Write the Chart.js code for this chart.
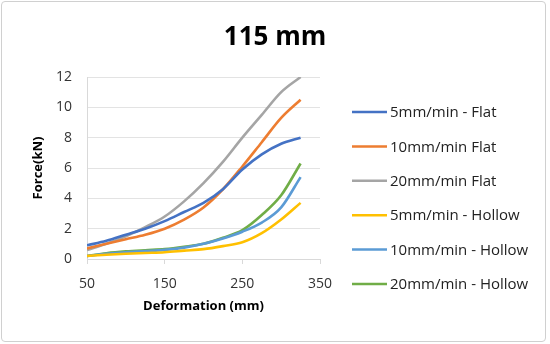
<!DOCTYPE html>
<html>
<head>
<meta charset="utf-8">
<script src="https://cdn.jsdelivr.net/npm/chart.js@4"></script>
<style>
  html, body { margin: 0; padding: 0; background: #fff; }
  #box { position: absolute; left: 1px; top: 1px; width: 543px; height: 339px; border: 1px solid #d0d0d0; border-radius: 4px; }
  canvas { display: block; }
</style>
</head>
<body>
<div id="box"><canvas id="chart" width="543" height="339"></canvas></div>
<script>
// deformation (mm)
const deformation = [50, 75, 100, 125, 150, 175, 200, 225, 250, 275, 300, 325];
// force (kN)
const flat5 = [0.9, 1.2, 1.6, 2.0, 2.5, 3.1, 3.7, 4.6, 5.9, 6.9, 7.6, 8.0];
const flat10 = [0.7, 1.0, 1.3, 1.6, 2.0, 2.6, 3.4, 4.6, 6.1, 7.7, 9.3, 10.5];
const flat20 = [0.6, 1.0, 1.5, 2.1, 2.8, 3.8, 5.0, 6.4, 8.0, 9.5, 11.0, 12.0];
const hollow5 = [0.2, 0.28, 0.35, 0.4, 0.45, 0.55, 0.65, 0.85, 1.1, 1.7, 2.6, 3.7];
const hollow10 = [0.2, 0.35, 0.45, 0.52, 0.6, 0.75, 1.0, 1.35, 1.8, 2.4, 3.4, 5.4];
const hollow20 = [0.2, 0.38, 0.5, 0.58, 0.65, 0.8, 1.0, 1.4, 1.9, 2.9, 4.2, 6.3];

const chartTitle = '115 mm';
const names = ['5mm/min - Flat', '10mm/min Flat', '20mm/min Flat', '5mm/min - Hollow', '10mm/min - Hollow', '20mm/min - Hollow'];
const colors = ['#4472C4', '#ED7D31', '#A5A5A5', '#FFC000', '#5B9BD5', '#70AD47'];
const series = [flat5, flat10, flat20, hollow5, hollow10, hollow20];

const font = "'Open Sans', 'Liberation Sans', sans-serif";

// title centred on the whole picture + Excel style legend on the right
const decorations = {
  id: 'decorations',
  afterDraw(chart) {
    const ctx = chart.ctx;
    ctx.save();
    ctx.fillStyle = '#000';
    ctx.font = "bold 26px 'Open Sans', sans-serif";
    ctx.textAlign = 'center';
    ctx.textBaseline = 'middle';
    ctx.fillText(chartTitle, 273, 36);

    const x0 = 350, top = 110, gap = 34.4;
    ctx.font = "15px 'Open Sans', sans-serif";
    ctx.textAlign = 'left';
    chart.data.datasets.forEach((ds, i) => {
      const y = top + i * gap;
      ctx.strokeStyle = ds.borderColor;
      ctx.lineWidth = 2.5;
      ctx.beginPath();
      ctx.moveTo(x0, y);
      ctx.lineTo(x0 + 35, y);
      ctx.stroke();
      ctx.fillStyle = '#222';
      ctx.fillText(ds.label, x0 + 38, y + 1);
    });
    ctx.restore();
  }
};

new Chart(document.getElementById('chart'), {
  type: 'line',
  data: {
    datasets: series.map((s, i) => ({
      label: names[i],
      data: s.map((v, j) => ({ x: deformation[j], y: v })),
      borderColor: colors[i],
      backgroundColor: colors[i],
      borderWidth: 2.6,
      pointRadius: 0,
      tension: 0.4,
      cubicInterpolationMode: 'monotone',
      fill: false
    }))
  },
  options: {
    responsive: false,
    animation: false,
    layout: { padding: { left: 0, right: 225, top: 75, bottom: 0 } },
    plugins: {
      title: { display: false },
      legend: { display: false },
      tooltip: { enabled: false }
    },
    scales: {
      x: {
        type: 'linear',
        min: 50,
        max: 350,
        afterFit(scale) { scale.height = 82; },
        ticks: { stepSize: 100, color: '#333', font: { family: font, size: 14 }, padding: 12 },
        grid: { drawOnChartArea: false, drawTicks: true, tickLength: 5, color: '#d9d9d9' },
        border: { display: true, color: '#d9d9d9' },
        title: { display: true, text: 'Deformation (mm)', color: '#000', font: { family: font, size: 13, weight: 'bold' }, padding: { top: 2, bottom: 27 } }
      },
      y: {
        min: 0,
        max: 12,
        afterFit(scale) { scale.width = 85; },
        ticks: { stepSize: 2, color: '#333', font: { family: font, size: 14 }, padding: 15 },
        grid: { color: '#e3e3e3', drawTicks: false },
        border: { display: true, color: '#d9d9d9' },
        title: { display: true, text: 'Force(kN)', color: '#000', font: { family: font, size: 13, weight: 'bold' }, padding: { top: 28, bottom: 2 } }
      }
    }
  },
  plugins: [decorations]
});
</script>
</body>
</html>
